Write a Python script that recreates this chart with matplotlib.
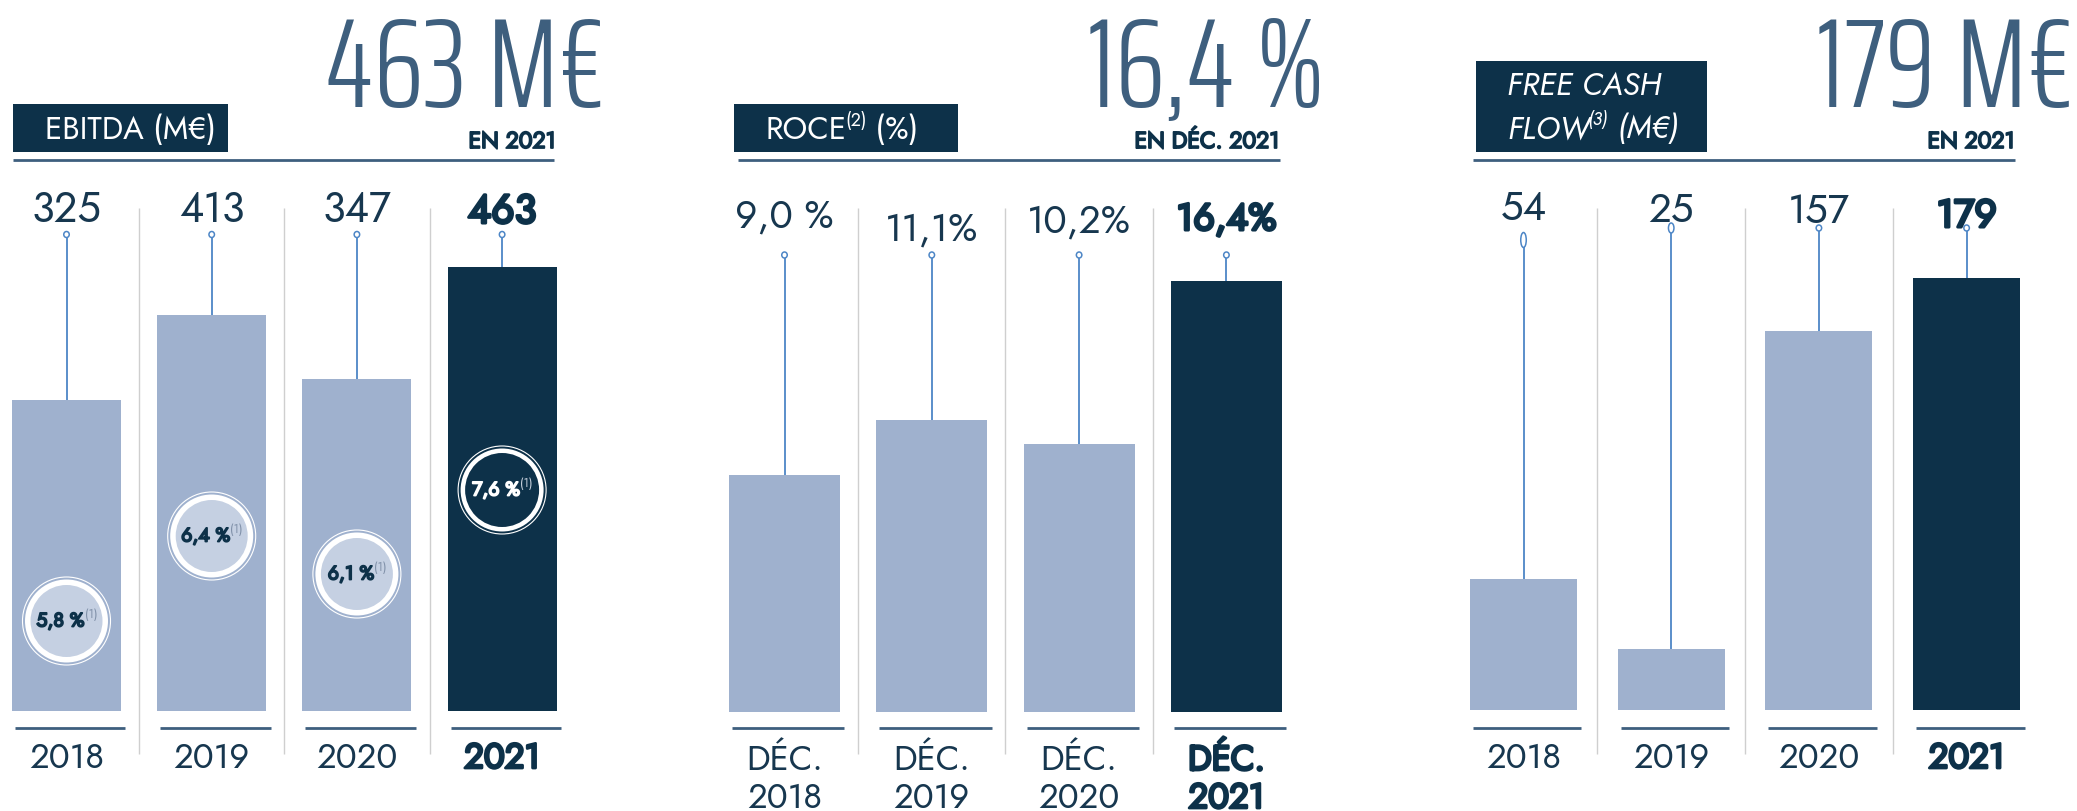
import matplotlib
matplotlib.use("Agg")
import matplotlib.pyplot as plt
import matplotlib.patheffects as pe
from matplotlib.patches import Rectangle, Ellipse

# data
years = ["2018", "2019", "2020", "2021"]
ebitda = [325, 413, 347, 463]
ebitda_labels = ["325", "413", "347", "463"]
margin_labels = ["5,8 %", "6,4 %", "6,1 %", "7,6 %"]
roce = [9.0, 11.1, 10.2, 16.4]
roce_labels = ["9,0 %", "11,1%", "10,2%", "16,4%"]
fcf = [54, 25, 157, 179]
fcf_labels = ["54", "25", "157", "179"]

W, H = 2077, 811
LIGHT = "#9fb1ce"
DARK = "#0d3149"
STEEL = "#3e5f7e"
STEM = "#4d86c6"
SEP = "#cfcfcf"
TEXT = "#17374f"
CIRCLE_IN = "#c5d0e2"
FONT = ["Jost", "DejaVu Sans"]
BIG = ["Saira ExtraCondensed", "DejaVu Sans"]

fig = plt.figure(figsize=(W / 100, H / 100), dpi=100)


def fake_bold(lw, color):
    return [pe.withStroke(linewidth=lw, foreground=color)]


def make_panel(left, right, c0, sp, base, k):
    # one axes per panel, pixel layout -> data coords
    ax = fig.add_axes([left / W, 0, (right - left) / W, 1])
    ax.set_xlim((left - c0) / sp, (right - c0) / sp)
    ax.set_ylim((base - H) / k, base / k)
    ax.axis("off")
    xv = lambda px: (px - c0) / sp
    yv = lambda py: (base - py) / k
    return ax, xv, yv, sp, k


def draw_panel(p, values, labels, bar_w, label_base, label_size, marker_y, marker_h,
               big, big_right, sub, sub_right, box, line, title_lines, title_x, year_rows):
    ax, xv, yv, sp, k = p
    x = list(range(len(values)))

    # big headline figure
    ax.text(xv(big_right), yv(107), big, ha="right", va="baseline", family=BIG,
            weight=300, fontsize=92, color=STEEL)
    ax.text(xv(sub_right), yv(148), sub, ha="right", va="baseline", family=FONT,
            fontsize=16.5, color=DARK, path_effects=fake_bold(1.3, DARK))

    # title box + rule
    bx0, by0, bx1, by1 = box
    ax.add_patch(Rectangle((xv(bx0), yv(by1)), xv(bx1) - xv(bx0), yv(by0) - yv(by1),
                           color=DARK, lw=0))
    ax.hlines(yv(160), xv(line[0]), xv(line[1]), color=STEEL, lw=2.0)
    for base_y, parts in title_lines:
        prev = None
        for txt, is_sup, style in parts:
            kw = dict(family=FONT, color="white", style=style)
            if prev is None:
                prev = ax.text(xv(title_x), yv(base_y), txt, va="baseline", ha="left",
                               fontsize=22.5, **kw)
                first = prev
            elif is_sup:
                prev = ax.annotate(txt, xy=(1, 0.5), xycoords=prev, xytext=(-1.5, 0),
                                   textcoords="offset points", va="bottom", ha="left",
                                   fontsize=13, **kw)
            else:
                prev = ax.annotate(txt, xy=(1, 0), xycoords=(prev, first), va="bottom",
                                   ha="left", fontsize=22.5, **kw)

    # separators
    ax.vlines([i + 0.5 for i in x[:-1]], yv(754), yv(208), color=SEP, lw=1.0)

    # bars
    colors = [LIGHT] * (len(values) - 1) + [DARK]
    ax.bar(x, values, width=bar_w, color=colors, lw=0)

    # stems + small ring markers
    for i, v in enumerate(values):
        mh = marker_h[i]
        ax.vlines(i, v, yv(marker_y[i] + mh / 2), color=STEM, lw=1.3)
        ax.add_patch(Ellipse((i, yv(marker_y[i])), 5.5 / sp, mh / k, fc="white",
                             ec=STEM, lw=1.1))

    # value labels
    for i, lab in enumerate(labels):
        last = i == len(labels) - 1
        ax.text(i, yv(label_base[i]), lab, ha="center", va="baseline", family=FONT,
                fontsize=label_size - (1 if last else 0), color=DARK if last else TEXT,
                path_effects=fake_bold(2.2, DARK) if last else None)

    # underlines + category labels
    ax.hlines([yv(728)] * len(x), [i - bar_w / 2 + 0.02 for i in x],
              [i + bar_w / 2 + 0.03 for i in x], color=STEEL, lw=2.0)
    for row_y, row in year_rows:
        for i, lab in enumerate(row):
            last = i == len(row) - 1
            ax.text(i, yv(row_y), lab, ha="center", va="baseline", family=FONT,
                    fontsize=25, color=DARK if last else TEXT,
                    path_effects=fake_bold(2.0, DARK) if last else None)
    return ax


# ---- EBITDA ----
p1 = make_panel(0, 700, 66.5, 145.2, 711, 0.958)
ax1 = draw_panel(p1, ebitda, ebitda_labels, 0.75, [222, 222, 222, 223], 30,
                 [234.5] * 4, [6] * 4, "463 M€", 605, "EN 2021", 556,
                 (12.5, 104, 228, 152), (12.5, 554),
                 [(139, [("EBITDA (M€)", False, "normal")])], 45,
                 [(768, years)])

# margin circles inside the EBITDA bars
circle_y = [621, 536, 574, 490]
ax, xv, yv, sp, k = p1
for i, lab in enumerate(margin_labels):
    dark = i == len(margin_labels) - 1
    cy = yv(circle_y[i])
    ax.add_patch(Ellipse((i, cy), 88 / sp, 88 / k, fc="none", ec="white", lw=0.8))
    ax.add_patch(Ellipse((i, cy), 83 / sp, 83 / k, fc="white", lw=0))
    r_in = 74 if dark else 72
    ax.add_patch(Ellipse((i, cy), r_in / sp, r_in / k, fc=DARK if dark else CIRCLE_IN, lw=0))
    col = "white" if dark else DARK
    t = ax.text(i - 6 / sp, cy, lab, ha="center", va="center", family=FONT, fontsize=14,
                color=col, path_effects=fake_bold(1.3, col))
    ax.annotate("(1)", xy=(1, 0.5), xycoords=t, xytext=(0, 0), textcoords="offset points",
                ha="left", va="bottom", family=FONT, fontsize=8.5,
                color="#c9d2de" if dark else "#7f90a8")

# ---- ROCE ----
p2 = make_panel(700, 1420, 784.5, 147.3, 712, 26.3)
draw_panel(p2, roce, roce_labels, 0.754, [227, 240, 232, 230], 28,
           [255] * 4, [6] * 4, "16,4 %", 1325, "EN DÉC. 2021", 1279.5,
           (734, 104, 958, 152), (738, 1279.5),
           [(139, [("ROCE", False, "normal"), ("(2)", True, "normal"), (" (%)", False, "normal")])],
           766,
           [(770, ["DÉC."] * 4), (808, years)])

# ---- FREE CASH FLOW ----
p3 = make_panel(1420, 2077, 1523.5, 147.7, 709.5, 2.41)
draw_panel(p3, fcf, fcf_labels, 0.725, [220, 222, 223, 227], 29,
           [240, 228, 228, 228], [15, 10, 6, 6], "179 M€", 2074, "EN 2021", 2015,
           (1475.5, 61, 1706.5, 152), (1473, 2015),
           [(95, [("FREE CASH", False, "italic")]),
            (138, [("FLOW", False, "italic"), ("(3)", True, "italic"), (" (M€)", False, "italic")])],
           1507,
           [(768, years)])

fig.savefig("out.png", dpi=100)
